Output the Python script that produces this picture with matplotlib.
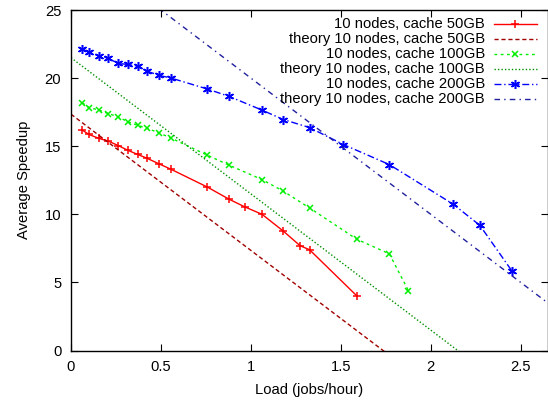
import matplotlib
matplotlib.use("Agg")
import matplotlib.pyplot as plt
import numpy as np

plt.rcParams.update({
    "font.family": ["Liberation Sans", "DejaVu Sans"],
    "font.size": 10.6,
})

# Measured speedup vs load, 10 nodes
load_50 = [0.061, 0.10, 0.156, 0.208, 0.262, 0.316, 0.37, 0.425, 0.49, 0.557,
           0.758, 0.88, 0.967, 1.062, 1.18, 1.274, 1.326, 1.59]
speedup_50 = [16.2, 15.86, 15.57, 15.37, 15.05, 14.7, 14.4, 14.1, 13.7, 13.3,
              12.0, 11.1, 10.54, 10.0, 8.77, 7.69, 7.4, 4.0]

load_100 = [0.063, 0.10, 0.156, 0.208, 0.262, 0.316, 0.37, 0.425, 0.49, 0.557,
            0.758, 0.88, 1.062, 1.18, 1.326, 1.59, 1.77, 1.876]
speedup_100 = [18.18, 17.84, 17.65, 17.4, 17.15, 16.8, 16.54, 16.3, 15.98, 15.59,
               14.34, 13.6, 12.55, 11.7, 10.47, 8.16, 7.1, 4.39]

load_200 = [0.063, 0.10, 0.156, 0.208, 0.262, 0.316, 0.37, 0.425, 0.49, 0.557,
            0.758, 0.88, 1.062, 1.18, 1.326, 1.515, 1.77, 2.125, 2.273, 2.453]
speedup_200 = [22.13, 21.89, 21.64, 21.44, 21.08, 21.0, 20.88, 20.5, 20.2, 20.0,
               19.2, 18.65, 17.65, 16.96, 16.37, 15.12, 13.65, 10.74, 9.19, 5.81]

# Theory lines (speedup = s0 - 10 * load)
theory_s0 = {"50": 17.35, "100": 21.5, "200": 30.0}
theory_slope = 10.0

labels = [
    "10 nodes, cache 50GB",
    "theory 10 nodes, cache 50GB",
    "10 nodes, cache 100GB",
    "theory 10 nodes, cache 100GB",
    "10 nodes, cache 200GB",
    "theory 10 nodes, cache 200GB",
]

fig = plt.figure(figsize=(5.48, 4.03), dpi=100)
ax = fig.add_axes([71 / 548, 52.5 / 403, 1 - 71 / 548, 340.5 / 403])

xt = np.array([0.0, 3.0])
styles = [
    dict(color="#ff0000", ls="-", lw=1.0, marker="+", ms=6, mew=1.1),
    dict(color="#a00000", ls=(0, (3, 2)), lw=1.0),
    dict(color="#00ee00", ls=(0, (2, 2.5)), lw=1.0, marker="x", ms=5, mew=1.1),
    dict(color="#009000", ls=(0, (1, 1.5)), lw=1.0),
    dict(color="#0000ff", ls=(0, (5, 2, 1, 2)), lw=1.0, marker=(6, 2, 0), ms=6.5, mew=1.1),
    dict(color="#2020a0", ls=(0, (4, 3, 1, 3)), lw=1.0),
]

ax.plot(load_50, speedup_50, **styles[0])
ax.plot(xt, theory_s0["50"] - theory_slope * xt, **styles[1])
ax.plot(load_100, speedup_100, **styles[2])
ax.plot(xt, theory_s0["100"] - theory_slope * xt, **styles[3])
ax.plot(load_200, speedup_200, **styles[4])
ax.plot(xt, theory_s0["200"] - theory_slope * xt, **styles[5])

ax.set_xlim(0, 2.652)
ax.set_ylim(0, 25)
ax.set_xticks([0, 0.5, 1, 1.5, 2, 2.5])
ax.set_xticklabels(["0", "0.5", "1", "1.5", "2", "2.5"])
ax.set_yticks([0, 5, 10, 15, 20, 25])
ax.tick_params(direction="in", top=True, right=True, length=5, width=0.8, pad=7)
for s in ax.spines.values():
    s.set_linewidth(1.0)
ax.set_xlabel("Load (jobs/hour)", labelpad=6)
ax.set_ylabel("Average Speedup", labelpad=10)

# gnuplot-style key: right-aligned text, sample on the right
for i, (lab, st) in enumerate(zip(labels, styles)):
    yk = 1 - (14 + 15.0 * i) / 340.5
    ax.text(0.868, yk, lab, transform=ax.transAxes, ha="right", va="center")
    ax.plot([0.887, 0.977], [yk, yk], transform=ax.transAxes, clip_on=False,
            **{k: v for k, v in st.items() if k not in ("marker", "ms", "mew")})
    if "marker" in st:
        ax.plot([0.931], [yk], transform=ax.transAxes, ls="none", color=st["color"],
                marker=st["marker"], ms=st["ms"], mew=st["mew"], clip_on=False)

fig.savefig("out.png", dpi=100)
